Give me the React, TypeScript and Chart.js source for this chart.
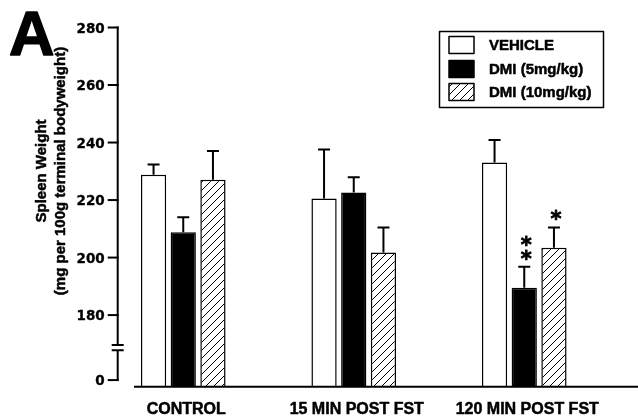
import React, { useEffect, useRef } from "react";
import { Chart, registerables } from "chart.js";

Chart.register(...registerables);

// ---- data ----
const categories = ["CONTROL", "15 MIN POST FST", "120 MIN POST FST"];
const seriesNames = ["VEHICLE", "DMI (5mg/kg)", "DMI (10mg/kg)"];
const vehicle = [228.8, 220.5, 233.1];
const vehicleErr = [3.6, 17.1, 7.8];
const dmi5 = [208.8, 222.6, 189.5];
const dmi5Err = [5.2, 5.3, 7.3];
const dmi10 = [227.1, 201.8, 203.4];
const dmi10Err = [10.0, 8.7, 7.1];
const vehicleSig = ["", "", ""];
const dmi5Sig = ["", "", "**"];
const dmi10Sig = ["", "", "*"];
const yTickValues = [0, 180, 200, 220, 240, 260, 280];
const panelLabel = "A";
const yTitleLines = ["Spleen Weight", "(mg per 100g terminal bodyweight)"];

// ---- broken axis geometry (scale units) ----
const Y_MAX = 280;
const Y_MIN = 155.1; // baseline of the bars
const ZERO_AT = 157.4; // where "0" is drawn below the break
const BREAK_HI = 169.6;
const BREAK_LO = 167.8;

const FONT = '"Liberation Sans", Arial, Helvetica, sans-serif';
const WIDE = '"DejaVu Sans", "Liberation Sans", sans-serif';

function makeHatch(): CanvasPattern | string {
  const c = document.createElement("canvas");
  c.width = 8;
  c.height = 8;
  const g = c.getContext("2d");
  if (!g) return "#fff";
  g.fillStyle = "#fff";
  g.fillRect(0, 0, 8, 8);
  g.strokeStyle = "#000";
  g.lineWidth = 1;
  g.beginPath();
  g.moveTo(0, 8);
  g.lineTo(8, 0);
  g.moveTo(-2, 2);
  g.lineTo(2, -2);
  g.moveTo(6, 10);
  g.lineTo(10, 6);
  g.stroke();
  return g.createPattern(c, "repeat") || "#fff";
}

const errorSets = [vehicleErr, dmi5Err, dmi10Err];
const sigSets = [vehicleSig, dmi5Sig, dmi10Sig];

function heavyText(ctx: CanvasRenderingContext2D, s: string, x: number, y: number, w = 0.5) {
  ctx.fillText(s, x, y);
  if (w > 0) {
    ctx.lineWidth = w;
    ctx.strokeText(s, x, y);
  }
}

const decorPlugin = {
  id: "decor",
  afterDatasetsDraw(chart: any) {
    const ctx: CanvasRenderingContext2D = chart.ctx;
    const ys = chart.scales.y;
    const xs = chart.scales.x;
    ctx.save();
    ctx.strokeStyle = "#000";
    ctx.fillStyle = "#000";
    ctx.lineCap = "butt";
    ctx.lineJoin = "round";

    // error bars + significance
    chart.data.datasets.forEach((ds: any, di: number) => {
      const meta = chart.getDatasetMeta(di);
      meta.data.forEach((bar: any, i: number) => {
        const v = ds.data[i];
        const top = ys.getPixelForValue(v + errorSets[di][i]);
        ctx.lineWidth = 2;
        ctx.beginPath();
        ctx.moveTo(bar.x, bar.y);
        ctx.lineTo(bar.x, top);
        ctx.moveTo(bar.x - 6, top);
        ctx.lineTo(bar.x + 6, top);
        ctx.stroke();
        const sig = sigSets[di][i];
        if (sig) {
          ctx.font = `bold 21px ${WIDE}`;
          ctx.textAlign = "center";
          ctx.textBaseline = "alphabetic";
          const m = ctx.measureText("*");
          const a = m.actualBoundingBoxAscent;
          const d = m.actualBoundingBoxDescent;
          for (let k = 0; k < sig.length; k++) {
            const cy = top - 12 - k * 14;
            heavyText(ctx, "*", bar.x + 2, cy - (d - a) / 2, 0.8);
          }
        }
      });
    });

    // x axis line
    const baseY = ys.getPixelForValue(Y_MIN);
    ctx.lineWidth = 2;
    ctx.beginPath();
    ctx.moveTo(134, baseY);
    ctx.lineTo(chart.width, baseY);
    ctx.stroke();

    // y axis with break
    const AX = 117.7;
    const pTop = ys.getPixelForValue(Y_MAX);
    const pZero = ys.getPixelForValue(ZERO_AT);
    const pBh = ys.getPixelForValue(BREAK_HI);
    const pBl = ys.getPixelForValue(BREAK_LO);
    ctx.lineWidth = 2;
    ctx.beginPath();
    ctx.moveTo(AX, pTop - 1);
    ctx.lineTo(AX, pBh);
    ctx.moveTo(AX, pBl);
    ctx.lineTo(AX, pZero + 1);
    ctx.moveTo(AX - 6, pBh);
    ctx.lineTo(AX + 6, pBh);
    ctx.moveTo(AX - 6, pBl);
    ctx.lineTo(AX + 6, pBl);
    ctx.stroke();

    ctx.font = `bold 13.5px ${WIDE}`;
    ctx.textAlign = "right";
    ctx.textBaseline = "middle";
    yTickValues.forEach((t) => {
      const py = ys.getPixelForValue(t === 0 ? ZERO_AT : t);
      ctx.lineWidth = 2;
      ctx.beginPath();
      ctx.moveTo(AX - 10, py);
      ctx.lineTo(AX + 1, py);
      ctx.stroke();
      heavyText(ctx, String(t), AX - 13, py + 1.5, 0.3);
    });

    // x labels
    ctx.font = `bold 16px ${FONT}`;
    ctx.textAlign = "center";
    ctx.textBaseline = "middle";
    categories.forEach((c, i) => {
      heavyText(ctx, c, xs.getPixelForValue(i) + 3, 409.5, 0.5);
    });

    // y title
    ctx.font = `bold 15px ${FONT}`;
    ctx.textAlign = "center";
    ctx.textBaseline = "middle";
    const titleX = [42, 61];
    yTitleLines.forEach((line, i) => {
      ctx.save();
      ctx.translate(titleX[i], 171);
      ctx.rotate(-Math.PI / 2);
      heavyText(ctx, line, 0, 0, 0.5);
      ctx.restore();
    });

    // panel label
    ctx.font = `bold 63px ${FONT}`;
    ctx.textAlign = "left";
    ctx.textBaseline = "alphabetic";
    heavyText(ctx, panelLabel, 9, 55, 1.5);

    // legend
    ctx.lineWidth = 1.5;
    ctx.strokeRect(439.5, 31.5, 164, 76);
    const rowY = [45, 69, 92];
    ctx.font = `bold 15px ${FONT}`;
    ctx.textAlign = "left";
    ctx.textBaseline = "middle";
    chart.data.datasets.forEach((ds: any, di: number) => {
      ctx.fillStyle = ds.backgroundColor;
      ctx.fillRect(449, rowY[di] - 8.5, 25, 17);
      ctx.strokeStyle = "#000";
      ctx.lineWidth = 1.5;
      ctx.strokeRect(449, rowY[di] - 8.5, 25, 17);
      ctx.fillStyle = "#000";
      heavyText(ctx, ds.label, 489, rowY[di] + 1, 0.5);
    });

    ctx.restore();
  },
};

export default function App() {
  const ref = useRef<HTMLCanvasElement | null>(null);

  useEffect(() => {
    document.body.style.margin = "0";
    const canvas = ref.current;
    if (!canvas) return;
    const hatch = makeHatch();
    const common = {
      borderColor: "#000",
      borderWidth: 1.5,
      borderSkipped: "start" as const,
      base: Y_MIN,
      categoryPercentage: 0.5226,
      barPercentage: 0.85,
    };
    const chart = new Chart(canvas, {
      type: "bar",
      data: {
        labels: categories,
        datasets: [
          { label: seriesNames[0], data: vehicle, backgroundColor: "#ffffff", ...common },
          { label: seriesNames[1], data: dmi5, backgroundColor: "#000000", ...common },
          { label: seriesNames[2], data: dmi10, backgroundColor: hatch as any, ...common },
        ],
      },
      options: {
        responsive: false,
        animation: false,
        devicePixelRatio: 1,
        layout: { padding: { left: 98, right: 28.5, top: 27.5, bottom: 32.3 } },
        plugins: { legend: { display: false }, tooltip: { enabled: false }, title: { display: false } },
        scales: {
          x: { type: "category", display: false, offset: true },
          y: { type: "linear", display: false, min: Y_MIN, max: Y_MAX },
        },
      },
      plugins: [decorPlugin],
    });
    return () => chart.destroy();
  }, []);

  return <canvas ref={ref} width={638} height={419} style={{ display: "block" }} />;
}
